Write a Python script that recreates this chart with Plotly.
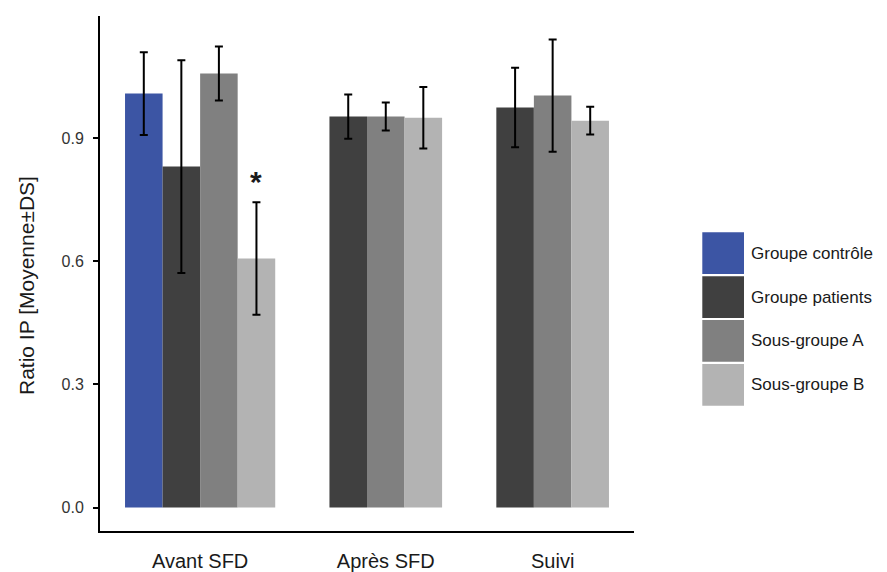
import plotly.graph_objects as go

# ---------------- data ----------------
categories = ["Avant SFD", "Après SFD", "Suivi"]
series_names = ["Groupe contrôle", "Groupe patients", "Sous-groupe A", "Sous-groupe B"]
series_colors = ["#3C55A4", "#404040", "#808080", "#B3B3B3"]

controle_mean = [1.009, None, None]
controle_sd = [0.101, None, None]
patients_mean = [0.831, 0.953, 0.975]
patients_sd = [0.259, 0.054, 0.097]
sousA_mean = [1.058, 0.953, 1.004]
sousA_sd = [0.066, 0.034, 0.137]
sousB_mean = [0.607, 0.950, 0.943]
sousB_sd = [0.137, 0.075, 0.034]

y_ticks = [0.0, 0.3, 0.6, 0.9]
y_title = "Ratio IP [Moyenne±DS]"
significance_mark = "*"
significance_series = 3   # Sous-groupe B
significance_category = 0  # Avant SFD

means = [controle_mean, patients_mean, sousA_mean, sousB_mean]
sds = [controle_sd, patients_sd, sousA_sd, sousB_sd]

# ---------------- layout geometry ----------------
W, H = 887, 572
ML, MR, MT, MB = 100, 253, 16, 41
PW, PH = W - ML - MR, H - MT - MB
FONT = "Liberation Sans, Arial, Helvetica, sans-serif"

def px_x(px):
    return (px - ML) / PW

def px_y(py):
    return (H - MB - py) / PH

n_series = len(series_names)
group_width = 0.9
slot = group_width / n_series
x_pos = [i + 1 for i in range(len(categories))]

def slot_offset(s):
    return -group_width / 2 + slot * (s + 0.5)

fig = go.Figure()
for s in range(n_series):
    fig.add_trace(go.Bar(
        x=x_pos,
        y=means[s],
        name=series_names[s],
        marker=dict(color=series_colors[s], line=dict(width=0)),
        error_y=dict(type="data", array=[v if v is not None else 0 for v in sds[s]],
                     color="black", thickness=2, width=4, visible=True),
        showlegend=False,
    ))

# tick label positions: centre of bars actually present in each category
label_pos = []
for c in range(len(categories)):
    present = [slot_offset(s) for s in range(n_series) if means[s][c] is not None]
    label_pos.append(x_pos[c] + sum(present) / len(present))

ymax = max(m + d for ms, ds in zip(means, sds) for m, d in zip(ms, ds) if m is not None)
ypad = 0.05 * ymax

fig.update_layout(
    width=W, height=H,
    margin=dict(l=ML, r=MR, t=MT, b=MB, autoexpand=False),
    paper_bgcolor="white", plot_bgcolor="white",
    barmode="group", bargap=1 - group_width, bargroupgap=0,
    font=dict(family=FONT, color="#1a1a1a"),
    xaxis=dict(
        range=[0.4, len(categories) + 0.6],
        tickmode="array", tickvals=label_pos, ticktext=categories,
        ticks="", showline=True, linecolor="black", linewidth=2,
        showgrid=False, zeroline=False,
        tickfont=dict(size=20, color="#1a1a1a", family=FONT),
        ticklabelstandoff=11,
        automargin=False,
    ),
    yaxis=dict(
        range=[-ypad, ymax + ypad],
        tickmode="array", tickvals=y_ticks, ticktext=[f"{v:.1f}" for v in y_ticks],
        ticks="outside", ticklen=5, tickwidth=1.5, tickcolor="black",
        showline=True, linecolor="black", linewidth=2,
        showgrid=False, zeroline=False,
        tickfont=dict(size=16, color="#333333", family=FONT),
        ticklabelstandoff=6,
        automargin=False,
    ),
)

annotations = []
# y-axis title (centred on the figure height)
annotations.append(dict(
    text=y_title, xref="paper", yref="paper", x=px_x(26), y=px_y(H / 2),
    xanchor="center", yanchor="middle", textangle=-90, showarrow=False,
    font=dict(size=21, color="#1a1a1a", family=FONT),
))

# significance asterisk
sc, ss = significance_category, significance_series
annotations.append(dict(
    text=f"<b>{significance_mark}</b>", xref="x", yref="y",
    x=x_pos[sc] + slot_offset(ss), y=means[ss][sc] + sds[ss][sc],
    xanchor="center", yanchor="bottom", yshift=2, showarrow=False,
    font=dict(size=30, color="#1a1a1a", family=FONT),
))

# custom legend with large square keys
shapes = []
leg_x0, leg_size, leg_pitch, leg_y0 = 702.3, 41.7, 43.9, 232.3
for i, (nm, col) in enumerate(zip(series_names, series_colors)):
    top = leg_y0 + i * leg_pitch
    shapes.append(dict(
        type="rect", xref="paper", yref="paper",
        x0=px_x(leg_x0), x1=px_x(leg_x0 + leg_size),
        y0=px_y(top + leg_size), y1=px_y(top),
        fillcolor=col, line=dict(width=0),
    ))
    annotations.append(dict(
        text=nm, xref="paper", yref="paper",
        x=px_x(leg_x0 + leg_size + 5), y=px_y(top + leg_size / 2),
        xanchor="left", yanchor="middle", showarrow=False,
        font=dict(size=17, color="#1a1a1a", family=FONT),
    ))

fig.update_layout(annotations=annotations, shapes=shapes)
fig.write_html(
    "out.html",
    config={"displayModeBar": False},
    post_script="document.body.style.margin='0px';document.body.style.overflow='hidden';",
)
